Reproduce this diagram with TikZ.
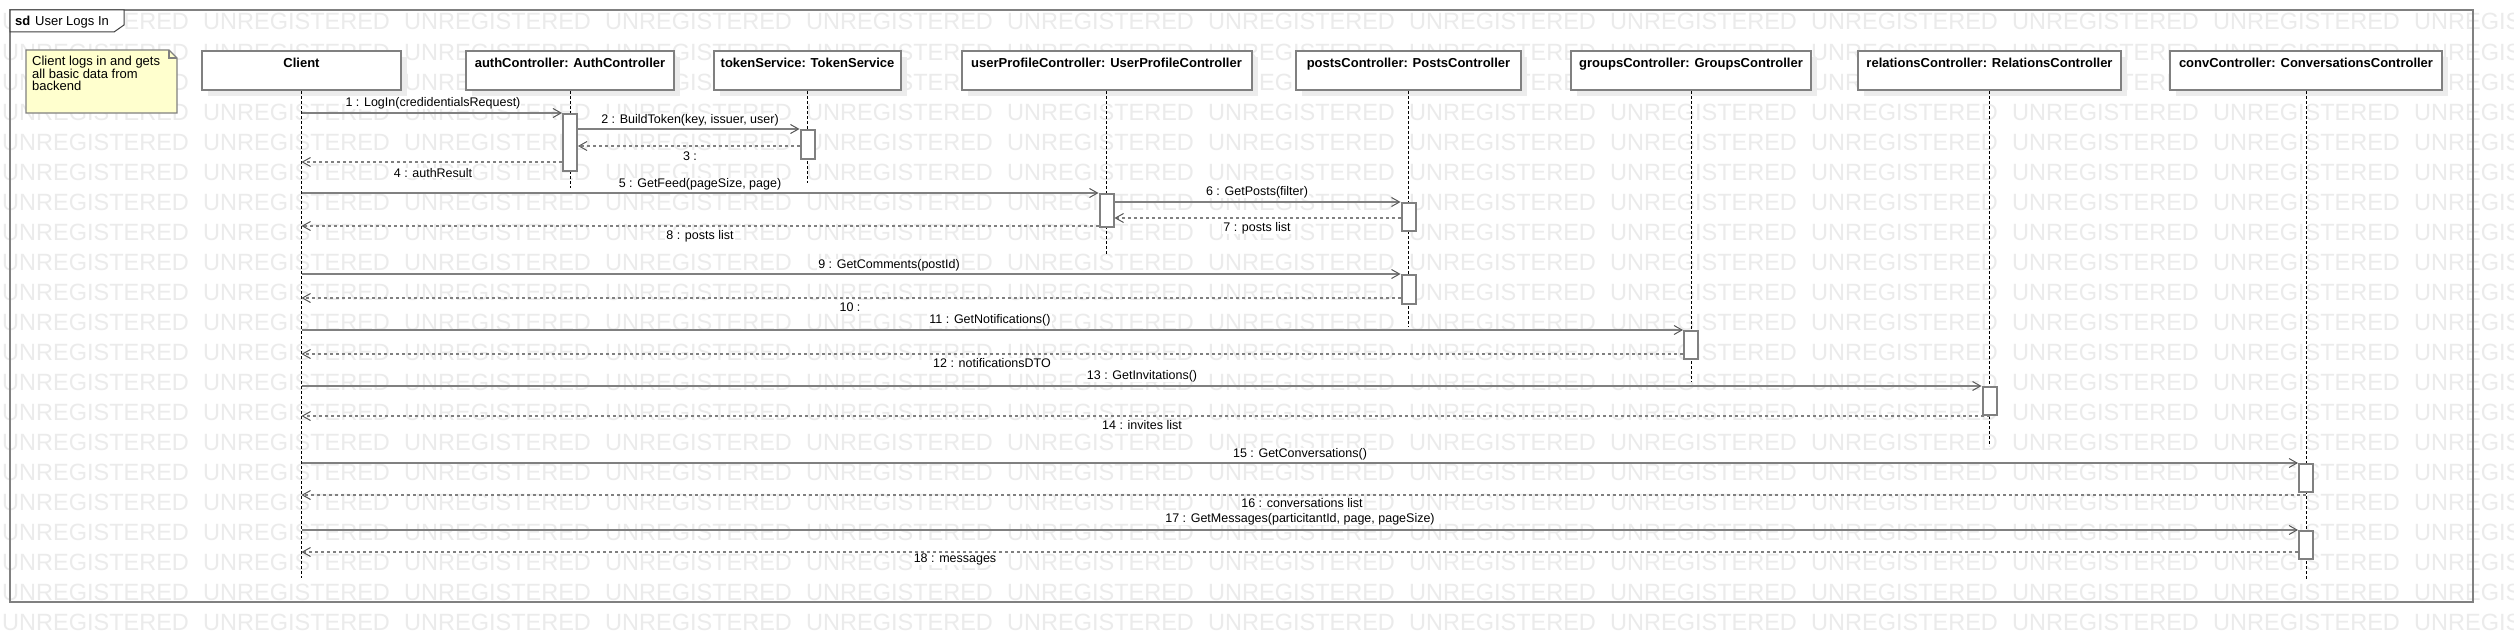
\documentclass[tikz,border=0pt]{standalone}
\usepackage{fontspec}
\setmainfont{Liberation Sans}
\usetikzlibrary{arrows.meta,shadows}
\definecolor{lg}{RGB}{128,128,128}
\definecolor{wm}{RGB}{235,235,235}
\definecolor{notefill}{RGB}{255,255,206}
\definecolor{shadowc}{RGB}{236,236,236}
\begin{document}
\begin{tikzpicture}[x=1pt,y=-1pt,
  wmk/.style={anchor=base west, inner sep=0pt, text=wm, font=\fontsize{23.5}{28}\selectfont},
  head/.style={draw=lg, line width=2pt, fill=white, inner xsep=0pt, inner ysep=0pt,
    text height=16.7pt, text depth=22.3pt, anchor=north,
    font=\fontsize{13}{15}\selectfont\bfseries,
    drop shadow={shadow xshift=6pt, shadow yshift=-6pt, fill=shadowc, opacity=1}},
  lifeline/.style={draw=black, line width=0.9pt, dash pattern=on 3pt off 2pt},
  act/.style={draw=lg, line width=2pt, fill=white, minimum width=14pt, inner sep=0pt, anchor=north},
  tip/.style={-{Straight Barb[length=8pt,width=9pt,line width=1pt,color=black!65]}},
  msg/.style={draw=lg, line width=1.5pt, tip},
  ret/.style={draw=lg, line width=1.5pt, dash pattern=on 3pt off 3pt, tip},
  lbl/.style={fill=white, inner xsep=1pt, inner ysep=0.2pt, font=\fontsize{12.5}{14}\selectfont}
]
\useasboundingbox (0,0) rectangle (2514,642);
\fill[white] (0,0) rectangle (2514,642);

% watermark
\foreach \r in {0,...,20}{
  \foreach \c in {0,...,12}{
    \node[wmk] (wm-\r-\c) at ({2+201*\c},{30+30*\r}) {UNREGISTERED};
  }
}

% frame
\draw[draw=lg, line width=2pt] (10,10) rectangle (2473,602);
\draw[fill=white, draw=black!75, line width=1pt] (10,10) -- (124,10) -- (124,25) -- (114,32) -- (10,32) -- cycle;
\node[anchor=base west, inner sep=0pt, font=\fontsize{13}{15}\selectfont] (sdlbl) at (15,25.7) {\textbf{sd}\hspace{4.8pt}User Logs In};

% note
\draw[fill=notefill, draw=lg, line width=1.2pt] (26,50) -- (169,50) -- (177,58) -- (177,113) -- (26,113) -- cycle;
\draw[draw=lg, line width=1.2pt] (169,50) -- (169,58) -- (177,58);
\node[anchor=north west, inner sep=0pt, align=left, font=\fontsize{13}{12.5}\selectfont] (notetxt) at (32,56)
  {Client logs in and gets\\all basic data from\\backend};

% headers
\node[head, minimum width=199pt] (client) at (301.5,50) {Client};
\node[head, minimum width=208pt] (auth) at (570,50) {authController: AuthController};
\node[head, minimum width=187pt] (token) at (807.5,50) {tokenService: TokenService};
\node[head, minimum width=290pt] (user) at (1106.5,50) {userProfileController: UserProfileController};
\node[head, minimum width=225pt] (posts) at (1408.5,50) {postsController: PostsController};
\node[head, minimum width=240pt] (groups) at (1691,50) {groupsController: GroupsController};
\node[head, minimum width=263pt] (rel) at (1989.5,50) {relationsController: RelationsController};
\node[head, minimum width=272pt] (conv) at (2306,50) {convController: ConversationsController};

% lifeline ends
\coordinate (client-e) at (client.south |- 0,578);
\coordinate (auth-e) at (auth.south |- 0,188);
\coordinate (token-e) at (token.south |- 0,183);
\coordinate (user-e) at (user.south |- 0,255);
\coordinate (posts-e) at (posts.south |- 0,327);
\coordinate (groups-e) at (groups.south |- 0,382);
\coordinate (rel-e) at (rel.south |- 0,446);
\coordinate (conv-e) at (conv.south |- 0,579);
\foreach \n in {client,auth,token,user,posts,groups,rel,conv}{
  \draw[lifeline] (\n.south) -- (\n-e);
}

% activations
\node[act, minimum height=57pt] (a1) at (auth.south |- 0,113) {};
\node[act, minimum height=29pt] (a2) at (token.south |- 0,129) {};
\node[act, minimum height=33pt] (a3) at (user.south |- 0,193) {};
\node[act, minimum height=28pt] (a4) at (posts.south |- 0,202) {};
\node[act, minimum height=29pt] (a5) at (posts.south |- 0,274) {};
\node[act, minimum height=28pt] (a6) at (groups.south |- 0,330) {};
\node[act, minimum height=28pt] (a7) at (rel.south |- 0,386) {};
\node[act, minimum height=28pt] (a8) at (conv.south |- 0,463) {};
\node[act, minimum height=28pt] (a9) at (conv.south |- 0,530) {};

% messages
\draw[msg] (client.south |- a1.north) -- (a1.north west);
\draw[msg] (a1.east |- a2.north) -- (a2.north west);
\draw[ret] (a2.west |- 0,146) -- (a1.east |- 0,146);
\draw[ret] (a1.west |- 0,162) -- (client.south |- 0,162);
\draw[msg] (client.south |- a3.north) -- (a3.north west);
\draw[msg] (a3.east |- a4.north) -- (a4.north west);
\draw[ret] (a4.west |- 0,218) -- (a3.east |- 0,218);
\draw[ret] (a3.west |- 0,226) -- (client.south |- 0,226);
\draw[msg] (client.south |- a5.north) -- (a5.north west);
\draw[ret] (a5.west |- 0,298) -- (client.south |- 0,298);
\draw[msg] (client.south |- a6.north) -- (a6.north west);
\draw[ret] (a6.west |- 0,354) -- (client.south |- 0,354);
\draw[msg] (client.south |- a7.north) -- (a7.north west);
\draw[ret] (rel.south |- 0,416) -- (client.south |- 0,416);
\draw[msg] (client.south |- a8.north) -- (a8.north west);
\draw[ret] (conv.south |- 0,495) -- (client.south |- 0,495);
\draw[msg] (client.south |- a9.north) -- (a9.north west);
\draw[ret] (a9.west |- 0,552) -- (client.south |- 0,552);

% labels
\node[lbl] (l1) at (433,103) {1 : LogIn(credidentialsRequest)};
\node[lbl] (l2) at (690,120) {2 : BuildToken(key, issuer, user)};
\node[lbl] (l3) at (690,156) {3 :};
\node[lbl] (l4) at (433,173) {4 : authResult};
\node[lbl] (l5) at (700,184) {5 : GetFeed(pageSize, page)};
\node[lbl] (l6) at (1257,192) {6 : GetPosts(filter)};
\node[lbl] (l7) at (1257,228) {7 : posts list};
\node[lbl] (l8) at (700,236) {8 : posts list};
\node[lbl] (l9) at (889,265) {9 : GetComments(postId)};
\node[lbl] (l10) at (850,307) {10 :};
\node[lbl] (l11) at (990,320) {11 : GetNotifications()};
\node[lbl] (l12) at (992,363) {12 : notificationsDTO};
\node[lbl] (l13) at (1142,376) {13 : GetInvitations()};
\node[lbl] (l14) at (1142,425) {14 : invites list};
\node[lbl] (l15) at (1300,454) {15 : GetConversations()};
\node[lbl] (l16) at (1302,503) {16 : conversations list};
\node[lbl] (l17) at (1300,519) {17 : GetMessages(particitantId, page, pageSize)};
\node[lbl] (l18) at (955,559) {18 : messages};
\end{tikzpicture}
\end{document}
